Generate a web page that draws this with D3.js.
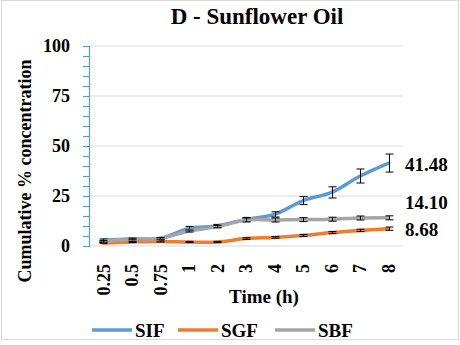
<!DOCTYPE html>
<html>
<head>
  <meta charset="utf-8">
  <title>D - Sunflower Oil</title>
  <style>
    body { margin: 0; background: #fff; }
    text { font-family: "Liberation Serif", "Times New Roman", serif; font-weight: bold; fill: #000; }
  </style>
</head>
<body>
  <svg id="chart"></svg>

  <script src="https://d3js.org/d3.v7.min.js"></script>
  <script>
    // data
    const times = ["0.25", "0.5", "0.75", "1", "2", "3", "4", "5", "6", "7", "8"];
    const sif = [3, 3.5, 3.8, 8.8, 10, 13.3, 15.8, 22.7, 26.8, 35, 41.48];
    const sgf = [1.5, 2, 2.3, 2, 2, 3.7, 4.3, 5.3, 6.7, 7.8, 8.68];
    const sbf = [2.3, 3.5, 3.8, 7.5, 9.7, 13, 13, 13.2, 13.4, 14, 14.10];
    const sifErr = [0.5, 0.5, 0.5, 1, 0.8, 1, 1.3, 2, 2.8, 3.5, 4.5];
    const sgfErr = [0.3, 0.3, 0.3, 0.3, 0.3, 0.4, 0.4, 0.5, 0.5, 0.6, 0.8];
    const sbfErr = [0.4, 0.4, 0.4, 0.5, 0.6, 1, 1, 1, 1, 1, 1];
    const seriesNames = ["SIF", "SGF", "SBF"];
    const endLabels = ["41.48", "14.10", "8.68"];
    const yTicks = [0, 25, 50, 75, 100];

    const width = 460;
    const height = 345;
    const margin = { top: 46, right: 57, bottom: 99, left: 89 };

    const svg = d3.select("#chart")
      .attr("width", width)
      .attr("height", height);

    // outer border
    svg.append("rect")
      .attr("x", 1.5).attr("y", 0.5)
      .attr("width", width - 3).attr("height", 339)
      .attr("fill", "#fff")
      .attr("stroke", "#d9d9d9");

    const x = d3.scaleBand()
      .domain(times)
      .range([margin.left, width - margin.right]);

    const y = d3.scaleLinear()
      .domain([0, 100])
      .range([height - margin.bottom, margin.top]);

    const cx = d => x(d) + x.bandwidth() / 2;

    // gridlines
    svg.append("g")
      .selectAll("line")
      .data(yTicks)
      .enter().append("line")
      .attr("x1", margin.left)
      .attr("x2", width - margin.right)
      .attr("y1", d => y(d))
      .attr("y2", d => y(d))
      .attr("stroke", "#d9d9d9")
      .attr("stroke-width", 1);

    // y axis (blue, minor ticks every 5)
    const yAxis = svg.append("g")
      .attr("transform", `translate(${margin.left},0)`)
      .call(d3.axisLeft(y).tickValues(d3.range(0, 101, 5)).tickSize(6).tickFormat(""));
    yAxis.select(".domain").attr("stroke", "#5b9bd5").attr("stroke-width", 1.2);
    yAxis.selectAll(".tick line").attr("stroke", "#5b9bd5").attr("stroke-width", 1.2);

    svg.append("g")
      .selectAll("text")
      .data(yTicks)
      .enter().append("text")
      .attr("x", 70)
      .attr("y", d => y(d))
      .attr("dy", "0.35em")
      .attr("text-anchor", "end")
      .style("font-size", "18px")
      .text(d => d);

    // x tick labels, rotated
    svg.append("g")
      .selectAll("text")
      .data(times)
      .enter().append("text")
      .attr("transform", d => `translate(${cx(d)},${264}) rotate(-90)`)
      .attr("dy", "0.35em")
      .attr("text-anchor", "end")
      .style("font-size", "18px")
      .text(d => d);

    // titles
    svg.append("text")
      .attr("x", 257).attr("y", 24)
      .attr("text-anchor", "middle")
      .style("font-size", "23px")
      .text("D - Sunflower Oil");

    svg.append("text")
      .attr("x", 264).attr("y", 303)
      .attr("text-anchor", "middle")
      .style("font-size", "19px")
      .text("Time (h)");

    svg.append("text")
      .attr("transform", `translate(31,171) rotate(-90)`)
      .attr("text-anchor", "middle")
      .style("font-size", "18px")
      .text("Cumulative % concentration");

    // series
    const colors = ["#5b9bd5", "#ed7d31", "#a5a5a5"];
    const values = [sif, sgf, sbf];
    const errors = [sifErr, sgfErr, sbfErr];

    const line = d3.line()
      .x((d, i) => cx(times[i]))
      .y(d => y(d))
      .curve(d3.curveCatmullRom.alpha(0.5));

    values.forEach((vals, s) => {
      svg.append("path")
        .datum(vals)
        .attr("d", line)
        .attr("fill", "none")
        .attr("stroke", colors[s])
        .attr("stroke-width", 3.5)
        .attr("stroke-linecap", "round");

      const eb = svg.append("g")
        .attr("stroke", "#000")
        .attr("stroke-width", 1);
      vals.forEach((v, i) => {
        const xc = Math.round(cx(times[i])) + 0.5;
        const y1 = y(v + errors[s][i]);
        const y2 = y(v - errors[s][i]);
        eb.append("line").attr("x1", xc).attr("x2", xc).attr("y1", y1).attr("y2", y2);
        eb.append("line").attr("x1", xc - 4).attr("x2", xc + 4).attr("y1", y1).attr("y2", y1);
        eb.append("line").attr("x1", xc - 4).attr("x2", xc + 4).attr("y1", y2).attr("y2", y2);
      });
    });

    // end labels
    svg.append("g")
      .selectAll("text")
      .data(endLabels)
      .enter().append("text")
      .attr("x", 405)
      .attr("y", (d, i) => [164, 202, 229][i])
      .attr("dy", "0.35em")
      .style("font-size", "19px")
      .text(d => d);

    // legend
    const legendX = [92, 178, 275];
    const legend = svg.append("g");
    seriesNames.forEach((name, i) => {
      legend.append("line")
        .attr("x1", legendX[i]).attr("x2", legendX[i] + 40)
        .attr("y1", 330).attr("y2", 330)
        .attr("stroke", colors[i])
        .attr("stroke-width", 3.5);
      legend.append("text")
        .attr("x", legendX[i] + 43).attr("y", 330)
        .attr("dy", "0.35em")
        .style("font-size", "19px")
        .text(name);
    });
  </script>
</body>
</html>
